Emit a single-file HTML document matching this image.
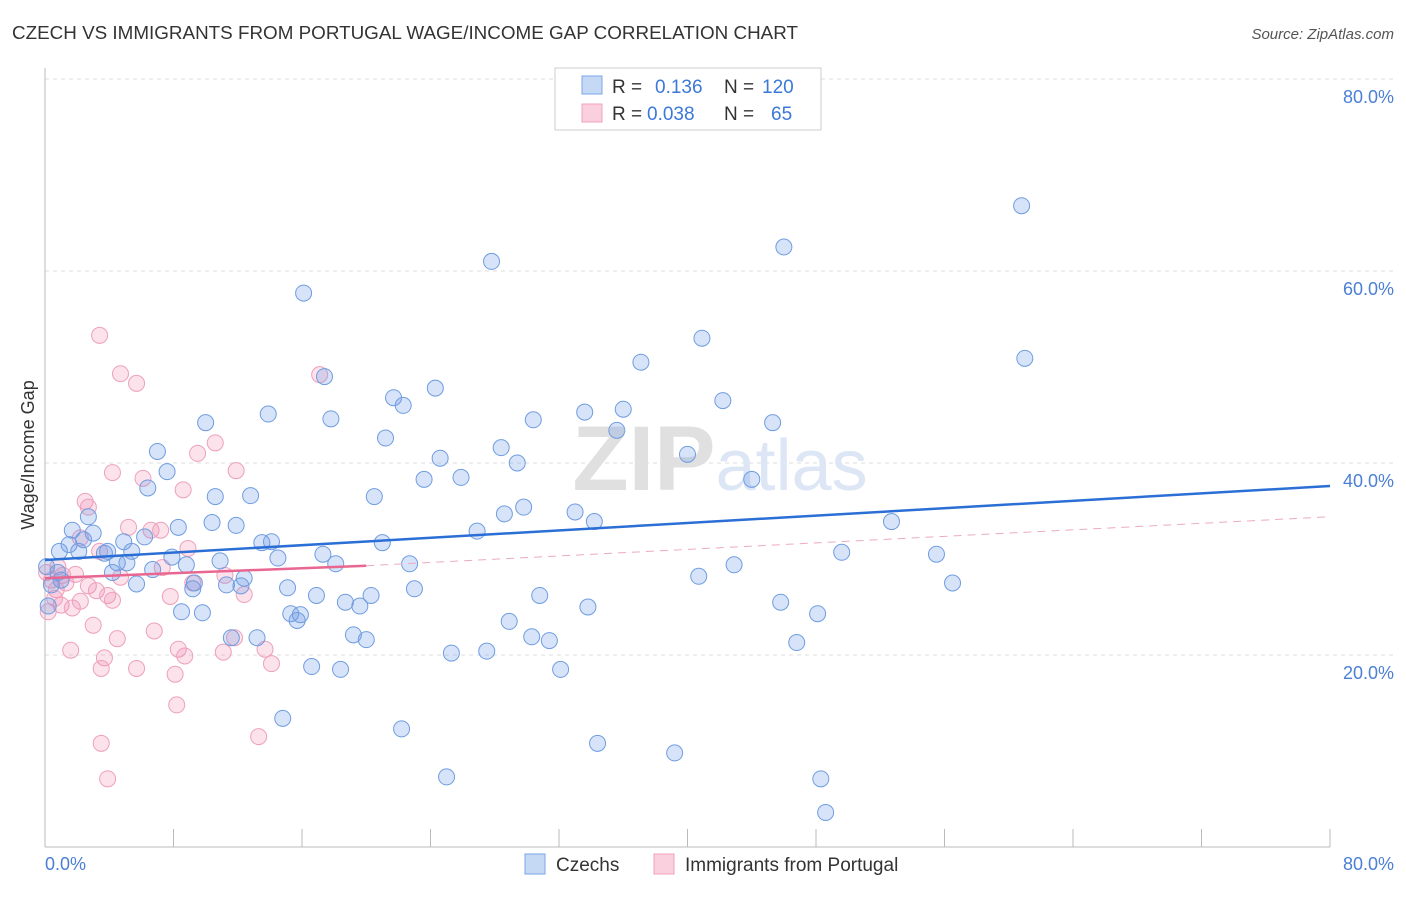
<!DOCTYPE html>
<html><head><meta charset="utf-8"><style>
body{margin:0;background:#fff;font-family:"Liberation Sans",sans-serif;}
svg text{font-family:"Liberation Sans",sans-serif;}
</style></head><body>
<svg id="chart" width="1406" height="892">
<text x="12" y="39" font-size="18" fill="#333" textLength="786" lengthAdjust="spacingAndGlyphs">CZECH VS IMMIGRANTS FROM PORTUGAL WAGE/INCOME GAP CORRELATION CHART</text>
<text x="1394" y="39" font-size="15" fill="#555" font-style="italic" text-anchor="end">Source: ZipAtlas.com</text>
<g id="grid"></g>
<text x="720" y="490" font-size="92" fill="#e4e4e4" text-anchor="middle" font-family="Liberation Serif"><tspan font-weight="bold" fill="#e0e0e0">ZIP</tspan><tspan fill="#dce6f5" font-family="Liberation Sans" font-size="72">atlas</tspan></text>
<g id="points"></g>
<g id="trends"></g>
<text x="34" y="455" font-size="18" fill="#333" text-anchor="middle" transform="rotate(-90 34 455)">Wage/Income Gap</text>
<text x="45" y="870" font-size="18" fill="#4a7fd4">0.0%</text>
<text x="1394" y="870" font-size="18" fill="#4a7fd4" text-anchor="end">80.0%</text>
<g>
<rect x="555" y="68" width="266" height="62" fill="#fff" stroke="#ccc"/>
<rect x="582" y="76" width="20" height="18" fill="#c5d9f5" stroke="#7aa6e6"/>
<rect x="582" y="104" width="20" height="18" fill="#fbd0de" stroke="#f0a0bd"/>
<text x="612" y="93" font-size="19" fill="#333">R =</text><text x="655" y="93" font-size="19" fill="#3b78d8">0.136</text>
<text x="724" y="93" font-size="19" fill="#333">N =</text><text x="762" y="93" font-size="19" fill="#3b78d8">120</text>
<text x="612" y="120" font-size="19" fill="#333">R =</text><text x="647" y="120" font-size="19" fill="#3b78d8">0.038</text>
<text x="724" y="120" font-size="19" fill="#333">N =</text><text x="771" y="120" font-size="19" fill="#3b78d8">65</text>
</g>
<g>
<rect x="525" y="854" width="20" height="20" fill="#c5d9f5" stroke="#7aa6e6"/>
<text x="556" y="871" font-size="19" fill="#333">Czechs</text>
<rect x="654" y="854" width="20" height="20" fill="#fbd0de" stroke="#f0a0bd"/>
<text x="685" y="871" font-size="19" fill="#333">Immigrants from Portugal</text>
</g>
</svg>
<script>
const yTicks=[20,40,60,80];
const xTicks=[0,8,16,24,32,40,48,56,64,72,80];
const czX=[60.8,46.0,27.8,16.1,40.9,37.1,61.0,17.4,24.3,21.7,22.3,42.2,13.9,17.8,33.6,36.0,30.4,45.3,10.0,35.6,21.2,7.0,28.4,40.0,24.6,29.4,7.6,23.6,25.9,44.0,6.4,10.6,12.8,20.5,29.8,28.6,33.0,34.2,2.7,10.4,11.9,8.3,1.7,26.9,52.7,3.0,6.2,4.9,1.5,2.4,13.5,14.1,21.0,0.9,2.1,3.7,3.9,5.4,17.3,49.6,55.5,7.9,14.5,10.9,4.5,5.1,8.8,18.1,22.7,42.9,6.7,4.2,40.7,5.7,9.3,12.4,11.3,9.2,56.5,15.1,23.0,12.2,16.9,20.3,30.8,18.7,19.6,45.8,33.8,8.5,9.8,15.3,15.9,15.7,28.9,48.1,11.6,13.2,19.2,20.0,30.3,31.4,46.8,25.3,27.5,16.6,18.4,32.1,14.8,22.2,34.4,39.2,25.0,48.3,48.6,0.2,0.1,0.4,0.8,1.0];
const czY=[66.8,62.5,61.0,57.7,53.0,50.5,50.9,49.0,47.8,46.8,46.0,46.5,45.1,44.6,45.3,45.6,44.5,44.2,44.2,43.4,42.6,41.2,41.6,40.9,40.5,40.0,39.1,38.3,38.5,38.3,37.4,36.5,36.6,36.5,35.4,34.7,34.9,33.9,34.4,33.8,33.5,33.3,33.0,32.9,33.9,32.7,32.3,31.8,31.5,32.0,31.7,31.8,31.7,30.8,30.8,30.6,30.8,30.8,30.5,30.7,30.5,30.2,30.1,29.8,29.6,29.6,29.4,29.5,29.5,29.4,28.9,28.6,28.2,27.4,27.5,28.0,27.3,26.9,27.5,27.0,26.9,27.2,26.2,26.2,26.2,25.5,25.1,25.5,25.0,24.5,24.4,24.3,24.2,23.6,23.5,24.3,21.8,21.8,22.1,21.6,21.9,21.5,21.3,20.2,20.4,18.8,18.5,18.5,13.4,12.3,10.8,9.8,7.3,7.1,3.6,25.1,29.2,27.3,28.6,27.8];
const ptX=[3.4,4.7,5.7,17.1,10.6,9.5,11.9,4.2,6.1,8.6,2.5,2.7,5.2,6.6,7.2,8.9,2.2,3.4,7.3,0.8,1.9,4.7,11.2,9.2,2.7,3.2,3.9,4.2,7.8,12.4,1.0,1.7,2.2,3.0,6.8,4.5,11.8,13.7,1.6,8.3,8.7,11.1,3.7,3.5,5.7,14.1,8.1,8.2,13.3,3.5,3.9,0.1,0.4,0.7,0.2,1.1,1.3,0.6];
const ptY=[53.3,49.3,48.3,49.2,42.1,41.0,39.2,39.0,38.4,37.2,36.0,35.4,33.3,33.0,33.0,31.1,32.2,30.8,29.1,29.2,28.4,28.1,28.3,27.5,27.2,26.7,26.2,25.7,26.1,26.3,25.2,24.9,25.6,23.1,22.5,21.7,21.8,20.6,20.5,20.6,19.9,20.3,19.7,18.6,18.6,19.1,18.0,14.8,11.5,10.8,7.1,28.6,27.8,26.8,24.5,28.3,27.5,25.9];
const czTrend=[29.9,37.6];
const ptTrend=[28.0,29.3,34.4];
const NS='http://www.w3.org/2000/svg';
const sx=v=>45+v*(1285/80);
const sy=v=>847-v*9.6;
function mk(tag,attrs,parent){const e=document.createElementNS(NS,tag);for(const k in attrs)e.setAttribute(k,attrs[k]);parent.appendChild(e);return e;}
const grid=document.getElementById('grid');
yTicks.forEach(t=>{
 const l=mk('line',{x1:45,x2:1394,y1:sy(t),y2:sy(t),stroke:'#ddd','stroke-dasharray':'4,4'},grid);
 
 
 const tx=mk('text',{x:1394,y:sy(t)+24,'font-size':18,fill:'#4a7fd4','text-anchor':'end'},grid);
 tx.textContent=t.toFixed(1)+'%';
 
 
});
const ax=mk('line',{x1:45,x2:45,y1:68,y2:847,stroke:'#bbb'},grid);


const bx=mk('line',{x1:45,x2:1330,y1:847,y2:847,stroke:'#bbb'},grid);


xTicks.forEach(t=>{
 const l=mk('line',{x1:sx(t),x2:sx(t),y1:829,y2:847,stroke:'#bbb'},grid);
 
 
});
const pts=document.getElementById('points');
ptX.forEach((x,i)=>{
 const c=mk('circle',{cx:sx(x),cy:sy(ptY[i]),r:8,fill:'rgba(240,140,175,0.25)',stroke:'#eea0bc','stroke-width':1},pts);
 
 
});
czX.forEach((x,i)=>{
 const c=mk('circle',{cx:sx(x),cy:sy(czY[i]),r:8,fill:'rgba(110,155,230,0.28)',stroke:'#6f9de0','stroke-width':1},pts);
 
 
});
const tr=document.getElementById('trends');
const l1=mk('line',{x1:sx(0),y1:sy(czTrend[0]),x2:sx(80),y2:sy(czTrend[1]),stroke:'#2b6fd6','stroke-width':2.5},tr);


const l2=mk('line',{x1:sx(0),y1:sy(ptTrend[0]),x2:sx(20),y2:sy(ptTrend[1]),stroke:'#e8668f','stroke-width':2.5},tr);


const l3=mk('line',{x1:sx(20),y1:sy(ptTrend[1]),x2:sx(80),y2:sy(ptTrend[2]),stroke:'#eeaac0','stroke-width':1,'stroke-dasharray':'8,6'},tr);


</script>
</body></html>
